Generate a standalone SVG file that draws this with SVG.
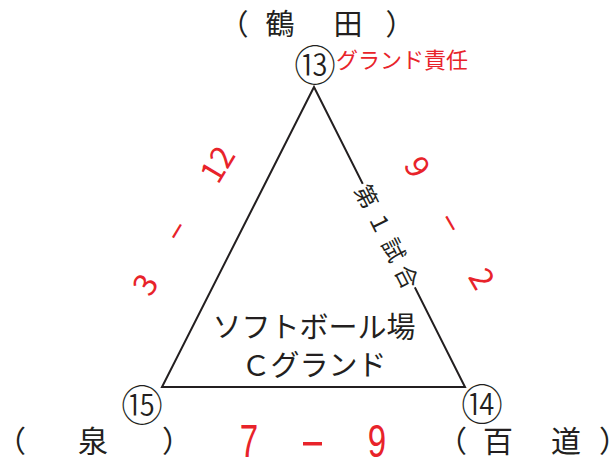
<svg xmlns="http://www.w3.org/2000/svg" width="614" height="458" viewBox="0 0 614 458">
<style>
  .jp { font-family: "Noto Sans CJK JP", "Noto Sans", sans-serif; fill: #231f20; }
  .red { fill: #e8232a; }
  .edge { stroke: #231f20; stroke-width: 2; fill: none; stroke-linejoin: miter; }
  .c { text-anchor: middle; dominant-baseline: central; }
  .num { font-family: "Noto Sans CJK JP", sans-serif; font-weight: 300; fill: #231f20; text-anchor: middle; dominant-baseline: central; }
</style>
<rect width="614" height="458" fill="#ffffff"/>

<g id="connectors">
  <polygon class="edge" points="314,87 162,387 465,387"/>
</g>

<g id="edge-label-game1" transform="translate(388,236) rotate(63.3)">
  <rect x="-58" y="-14" width="116" height="28" fill="#ffffff"/>
  <text class="jp c" font-size="23" x="-45 -15 15 45" y="0">第１試合</text>
</g>

<g id="score-left" transform="translate(175,230) rotate(-59)">
  <text class="jp red c" font-size="32" x="-62" y="0">3</text>
  <text class="jp red c" font-size="32" x="0" y="0">−</text>
  <text class="jp red c" font-size="32" x="78" y="0">12</text>
</g>

<g id="score-right" transform="translate(452,222) rotate(60)">
  <text class="jp red c" font-size="32" x="-65" y="0">9</text>
  <text class="jp red c" font-size="32" x="0" y="0">−</text>
  <text class="jp red c" font-size="32" x="64" y="0">2</text>
</g>

<g id="node-13">
  <text class="num" font-size="42" x="315" y="62">⑬</text>
  <text class="jp red" font-size="22" x="336" y="68">グランド責任</text>
  <text class="jp c" font-size="29" x="234" y="22">（</text>
  <text class="jp c" font-size="29" x="280" y="22">鶴</text>
  <text class="jp c" font-size="29" x="348" y="22">田</text>
  <text class="jp c" font-size="29" x="400" y="22">）</text>
</g>

<g id="node-15">
  <text class="num" font-size="42" x="142" y="402">⑮</text>
  <text class="jp c" font-size="30" x="11" y="439">（</text>
  <text class="jp c" font-size="30" x="93" y="439">泉</text>
  <text class="jp c" font-size="30" x="177" y="439">）</text>
</g>

<g id="node-14">
  <text class="num" font-size="42" x="482" y="401">⑭</text>
  <text class="jp c" font-size="30" x="452" y="439">（</text>
  <text class="jp c" font-size="30" x="498" y="439">百</text>
  <text class="jp c" font-size="30" x="566" y="439">道</text>
  <text class="jp c" font-size="30" x="614" y="439">）</text>
</g>

<g id="center-label">
  <text class="jp" font-size="29" text-anchor="middle" x="314" y="338">ソフトボール場</text>
  <text class="jp" font-size="29" text-anchor="middle" x="314" y="376">Ｃグランド</text>
</g>

<g id="score-bottom" font-family="Liberation Sans, sans-serif" font-size="46" fill="#e8232a" text-anchor="middle">
  <text transform="translate(249,457) scale(0.72,1)">7</text>
  <rect x="303" y="442" width="19" height="3.5" fill="#e8232a"/>
  <text transform="translate(377,457) scale(0.72,1)">9</text>
</g>
</svg>
